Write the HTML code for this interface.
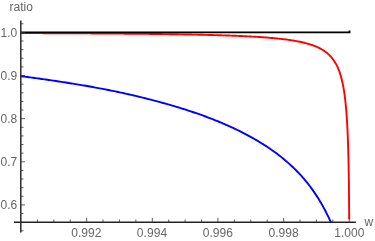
<!DOCTYPE html>
<html><head><meta charset="utf-8"><title>ratio plot</title>
<style>html,body{margin:0;padding:0;background:#fff;}body{width:375px;height:241px;overflow:hidden;font-family:"Liberation Sans",sans-serif;}</style>
</head><body>
<svg width="375" height="241" viewBox="0 0 375 241" style="display:block">
<defs><filter id="idf" x="0" y="0" width="100%" height="100%" filterUnits="userSpaceOnUse" color-interpolation-filters="sRGB"><feOffset dx="0" dy="0"/></filter></defs>
<rect width="375" height="241" fill="#fff"/>
<polyline points="20.40,76.11 21.82,76.29 23.24,76.48 24.65,76.66 26.07,76.84 27.49,77.03 28.91,77.22 30.33,77.41 31.75,77.59 33.16,77.79 34.58,77.98 36.00,78.17 37.42,78.36 38.84,78.56 40.26,78.76 41.67,78.95 43.09,79.15 44.51,79.35 45.93,79.56 47.35,79.76 48.76,79.96 50.18,80.17 51.60,80.38 53.02,80.59 54.44,80.80 55.86,81.01 57.27,81.22 58.69,81.44 60.11,81.65 61.53,81.87 62.95,82.09 64.37,82.31 65.78,82.53 67.20,82.76 68.62,82.98 70.04,83.21 71.46,83.44 72.87,83.67 74.29,83.90 75.71,84.13 77.13,84.36 78.55,84.60 79.97,84.84 81.38,85.08 82.80,85.32 84.22,85.56 85.64,85.81 87.06,86.06 88.48,86.31 89.89,86.56 91.31,86.81 92.73,87.06 94.15,87.32 95.57,87.58 96.98,87.84 98.40,88.10 99.82,88.36 101.24,88.63 102.66,88.90 104.08,89.17 105.49,89.44 106.91,89.72 108.33,89.99 109.75,90.27 111.17,90.56 112.58,90.85 114.00,91.14 115.42,91.43 116.84,91.73 118.26,92.03 119.68,92.33 121.09,92.63 122.51,92.94 123.93,93.25 125.35,93.57 126.77,93.88 128.19,94.20 129.60,94.53 131.02,94.85 132.44,95.18 133.86,95.51 135.28,95.84 136.69,96.18 138.11,96.52 139.53,96.86 140.95,97.20 142.37,97.55 143.79,97.90 145.20,98.25 146.62,98.61 148.04,98.97 149.46,99.33 150.88,99.69 152.30,100.06 153.71,100.43 155.13,100.80 156.55,101.17 157.97,101.55 159.39,101.93 160.80,102.32 162.22,102.71 163.64,103.10 165.06,103.50 166.48,103.90 167.90,104.30 169.31,104.71 170.73,105.12 172.15,105.54 173.57,105.96 174.99,106.38 176.41,106.81 177.82,107.24 179.24,107.67 180.66,108.11 182.08,108.55 183.50,109.00 184.91,109.45 186.33,109.91 187.75,110.37 189.17,110.83 190.59,111.30 192.01,111.77 193.42,112.25 194.84,112.73 196.26,113.22 197.68,113.71 199.10,114.21 200.52,114.71 201.93,115.21 203.35,115.72 204.77,116.24 206.19,116.76 207.61,117.29 209.02,117.83 210.44,118.37 211.86,118.91 213.28,119.47 214.70,120.03 216.12,120.59 217.53,121.17 218.95,121.75 220.37,122.33 221.79,122.93 223.21,123.53 224.63,124.14 226.04,124.76 227.46,125.38 228.88,126.01 230.30,126.66 231.72,127.30 233.13,127.96 234.55,128.63 235.97,129.31 237.39,129.99 238.81,130.69 240.23,131.39 241.64,132.10 243.06,132.83 244.48,133.56 245.90,134.31 247.32,135.06 248.73,135.83 250.15,136.60 251.57,137.38 252.99,138.18 254.41,138.99 255.83,139.81 257.24,140.64 258.66,141.48 260.08,142.33 261.50,143.20 262.92,144.09 264.34,144.99 265.75,145.90 267.17,146.83 268.59,147.77 270.01,148.74 271.43,149.72 272.84,150.72 274.26,151.73 275.68,152.77 277.10,153.83 278.52,154.90 279.94,156.01 281.35,157.13 282.77,158.28 284.19,159.45 285.61,160.65 287.03,161.87 288.45,163.11 289.86,164.39 291.28,165.69 292.70,167.02 294.12,168.38 295.54,169.78 296.95,171.21 298.37,172.68 299.79,174.18 301.21,175.73 302.63,177.32 304.05,178.95 305.46,180.63 306.88,182.36 308.30,184.14 309.72,185.98 311.14,187.88 312.56,189.84 313.97,191.87 315.39,193.96 316.81,196.12 318.23,198.35 319.65,200.67 321.06,203.07 322.48,205.55 323.90,208.12 325.32,210.79 326.74,213.57 328.16,216.45 329.57,219.45 330.99,222.30" fill="none" stroke="#0000ff" stroke-width="1.9" stroke-linejoin="round"/>
<polyline points="20.40,33.09 21.55,33.09 22.69,33.10 23.84,33.10 24.99,33.10 26.13,33.11 27.28,33.11 28.43,33.12 29.57,33.12 30.72,33.13 31.87,33.13 33.01,33.13 34.16,33.14 35.31,33.14 36.45,33.15 37.60,33.15 38.75,33.16 39.89,33.16 41.04,33.17 42.19,33.17 43.33,33.18 44.48,33.18 45.63,33.19 46.77,33.19 47.92,33.20 49.07,33.20 50.21,33.21 51.36,33.21 52.51,33.22 53.65,33.22 54.80,33.23 55.95,33.23 57.10,33.24 58.24,33.24 59.39,33.25 60.54,33.25 61.68,33.26 62.83,33.26 63.98,33.27 65.12,33.28 66.27,33.28 67.42,33.29 68.56,33.29 69.71,33.30 70.86,33.31 72.00,33.31 73.15,33.32 74.30,33.32 75.44,33.33 76.59,33.34 77.74,33.34 78.88,33.35 80.03,33.36 81.18,33.36 82.32,33.37 83.47,33.38 84.62,33.38 85.76,33.39 86.91,33.40 88.06,33.40 89.20,33.41 90.35,33.42 91.50,33.43 92.64,33.43 93.79,33.44 94.94,33.45 96.08,33.46 97.23,33.46 98.38,33.47 99.52,33.48 100.67,33.49 101.82,33.49 102.96,33.50 104.11,33.51 105.26,33.52 106.40,33.53 107.55,33.54 108.70,33.54 109.84,33.55 110.99,33.56 112.14,33.57 113.28,33.58 114.43,33.59 115.58,33.60 116.72,33.61 117.87,33.62 119.02,33.63 120.16,33.64 121.31,33.65 122.46,33.66 123.60,33.67 124.75,33.68 125.90,33.69 127.04,33.70 128.19,33.71 129.34,33.72 130.48,33.73 131.63,33.74 132.78,33.75 133.92,33.76 135.07,33.77 136.22,33.78 137.36,33.79 138.51,33.81 139.66,33.82 140.80,33.83 141.95,33.84 143.10,33.85 144.24,33.87 145.39,33.88 146.54,33.89 147.68,33.90 148.83,33.92 149.98,33.93 151.12,33.94 152.27,33.96 153.42,33.97 154.56,33.99 155.71,34.00 156.86,34.01 158.00,34.03 159.15,34.04 160.30,34.06 161.44,34.07 162.59,34.09 163.74,34.10 164.88,34.12 166.03,34.14 167.18,34.15 168.32,34.17 169.47,34.19 170.62,34.20 171.76,34.22 172.91,34.24 174.06,34.26 175.20,34.27 176.35,34.29 177.50,34.31 178.64,34.33 179.79,34.35 180.94,34.37 182.08,34.39 183.23,34.41 184.38,34.43 185.52,34.45 186.67,34.47 187.82,34.49 188.96,34.51 190.11,34.53 191.25,34.56 192.40,34.58 193.55,34.60 194.69,34.63 195.84,34.65 196.99,34.67 198.13,34.70 199.28,34.72 200.43,34.75 201.57,34.78 202.72,34.80 203.87,34.83 205.01,34.86 206.16,34.88 207.31,34.91 208.45,34.94 209.60,34.97 210.74,35.00 211.89,35.03 213.04,35.06 214.18,35.09 215.33,35.13 216.48,35.16 217.62,35.19 218.77,35.22 219.91,35.26 221.06,35.29 222.21,35.33 223.35,35.37 224.50,35.40 225.65,35.44 226.79,35.48 227.94,35.52 229.08,35.56 230.23,35.60 231.38,35.64 232.52,35.69 233.67,35.73 234.81,35.78 235.96,35.82 237.10,35.87 238.25,35.92 239.40,35.97 240.54,36.02 241.69,36.07 242.83,36.12 243.98,36.17 245.12,36.23 246.27,36.28 247.41,36.34 248.56,36.40 249.70,36.46 250.85,36.52 251.99,36.58 253.14,36.65 254.28,36.71 255.43,36.78 256.57,36.85 257.72,36.92 258.86,36.99 260.01,37.07 261.15,37.14 262.30,37.22 263.44,37.30 264.58,37.38 265.73,37.47 266.87,37.56 268.01,37.65 269.16,37.74 270.30,37.84 271.44,37.93 272.58,38.03 273.73,38.14 274.87,38.25 276.01,38.36 277.15,38.47 278.29,38.59 279.43,38.71 280.57,38.83 281.71,38.96 282.85,39.09 283.99,39.23 285.13,39.37 286.26,39.52 287.40,39.67 288.54,39.83 289.67,39.99 290.80,40.16 291.94,40.34 293.07,40.52 294.20,40.70 295.33,40.90 296.46,41.10 297.59,41.31 298.71,41.53 299.84,41.76 300.96,42.00 302.08,42.25 303.20,42.50 304.31,42.77 305.42,43.05 306.53,43.35 307.64,43.65 308.74,43.97 309.83,44.31 310.93,44.66 312.01,45.02 313.09,45.40 314.17,45.80 315.24,46.22 316.30,46.66 317.35,47.12 318.39,47.61 319.41,48.11 320.43,48.64 321.44,49.20 322.42,49.78 323.40,50.38 324.35,51.02 325.29,51.68 326.21,52.37 327.10,53.08 327.97,53.83 328.82,54.60 329.64,55.40 330.44,56.23 331.21,57.08 331.95,57.95 332.66,58.85 333.35,59.77 334.00,60.71 334.63,61.67 335.23,62.65 335.81,63.64 336.36,64.65 336.88,65.67 337.38,66.70 337.85,67.74 338.30,68.80 338.73,69.86 339.14,70.93 339.53,72.01 339.91,73.09 340.26,74.18 340.60,75.28 340.92,76.38 341.23,77.48 341.52,78.59 341.80,79.70 342.07,80.82 342.33,81.94 342.57,83.06 342.81,84.18 343.03,85.30 343.25,86.43 343.45,87.56 343.65,88.69 343.84,89.82 344.02,90.95 344.19,92.09 344.36,93.22 344.52,94.36 344.67,95.49 344.82,96.63 344.97,97.77 345.10,98.91 345.24,100.04 345.36,101.18 345.49,102.32 345.61,103.46 345.72,104.61 345.83,105.75 345.94,106.89 346.04,108.03 346.14,109.17 346.23,110.32 346.33,111.46 346.42,112.60 346.50,113.75 346.59,114.89 346.67,116.03 346.75,117.18 346.82,118.32 346.90,119.47 346.97,120.61 347.04,121.76 347.10,122.90 347.17,124.04 347.23,125.19 347.29,126.34 347.35,127.48 347.41,128.63 347.46,129.77 347.52,130.92 347.57,132.06 347.62,133.21 347.67,134.35 347.72,135.50 347.76,136.64 347.81,137.79 347.85,138.94 347.90,140.08 347.94,141.23 347.98,142.37 348.02,143.52 348.05,144.67 348.09,145.81 348.13,146.96 348.16,148.11 348.20,149.25 348.23,150.40 348.26,151.54 348.29,152.69 348.32,153.84 348.35,154.98 348.38,156.13 348.41,157.28 348.44,158.42 348.46,159.57 348.49,160.71 348.51,161.86 348.54,163.01 348.56,164.15 348.59,165.30 348.61,166.45 348.63,167.59 348.65,168.74 348.67,169.89 348.69,171.03 348.71,172.18 348.73,173.33 348.75,174.47 348.77,175.62 348.79,176.77 348.80,177.91 348.82,179.06 348.84,180.21 348.85,181.35 348.87,182.50 348.88,183.65 348.90,184.79 348.91,185.94 348.93,187.09 348.94,188.23 348.95,189.38 348.96,190.53 348.98,191.67 348.99,192.82 349.00,193.97 349.01,195.11 349.02,196.26 349.03,197.41 349.04,198.55 349.05,199.70 349.06,200.85 349.07,201.99 349.08,203.14 349.09,204.29 349.10,205.43 349.11,206.58 349.12,207.73 349.13,208.87 349.13,210.02 349.14,211.17 349.15,212.31 349.15,213.46 349.16,214.61 349.17,215.75 349.17,216.90 349.18,218.05 349.19,219.19" fill="none" stroke="#ff0000" stroke-width="1.9" stroke-linejoin="round"/>
<path d="M20.4 32.4 L349.5 32.4 L349.5 30.5" fill="none" stroke="#000" stroke-width="1.9"/>
<line x1="14" y1="222.2" x2="355.8" y2="222.2" stroke="#222" stroke-width="1.35"/>
<line x1="20.8" y1="20.4" x2="20.8" y2="232.6" stroke="#2a2a2a" stroke-width="1.5"/>
<line x1="37.41" y1="221.95" x2="37.41" y2="219.45" stroke="#333" stroke-width="0.8"/>
<line x1="53.83" y1="221.95" x2="53.83" y2="219.45" stroke="#333" stroke-width="0.8"/>
<line x1="70.24" y1="221.95" x2="70.24" y2="219.45" stroke="#333" stroke-width="0.8"/>
<line x1="86.65" y1="221.95" x2="86.65" y2="217.95" stroke="#333" stroke-width="0.8"/>
<line x1="103.06" y1="221.95" x2="103.06" y2="219.45" stroke="#333" stroke-width="0.8"/>
<line x1="119.48" y1="221.95" x2="119.48" y2="219.45" stroke="#333" stroke-width="0.8"/>
<line x1="135.89" y1="221.95" x2="135.89" y2="219.45" stroke="#333" stroke-width="0.8"/>
<line x1="152.30" y1="221.95" x2="152.30" y2="217.95" stroke="#333" stroke-width="0.8"/>
<line x1="168.71" y1="221.95" x2="168.71" y2="219.45" stroke="#333" stroke-width="0.8"/>
<line x1="185.13" y1="221.95" x2="185.13" y2="219.45" stroke="#333" stroke-width="0.8"/>
<line x1="201.54" y1="221.95" x2="201.54" y2="219.45" stroke="#333" stroke-width="0.8"/>
<line x1="217.95" y1="221.95" x2="217.95" y2="217.95" stroke="#333" stroke-width="0.8"/>
<line x1="234.36" y1="221.95" x2="234.36" y2="219.45" stroke="#333" stroke-width="0.8"/>
<line x1="250.78" y1="221.95" x2="250.78" y2="219.45" stroke="#333" stroke-width="0.8"/>
<line x1="267.19" y1="221.95" x2="267.19" y2="219.45" stroke="#333" stroke-width="0.8"/>
<line x1="283.60" y1="221.95" x2="283.60" y2="217.95" stroke="#333" stroke-width="0.8"/>
<line x1="300.01" y1="221.95" x2="300.01" y2="219.45" stroke="#333" stroke-width="0.8"/>
<line x1="316.43" y1="221.95" x2="316.43" y2="219.45" stroke="#333" stroke-width="0.8"/>
<line x1="332.84" y1="221.95" x2="332.84" y2="219.45" stroke="#333" stroke-width="0.8"/>
<line x1="349.25" y1="221.95" x2="349.25" y2="217.95" stroke="#333" stroke-width="0.8"/>
<line x1="20.7" y1="230.80" x2="23.5" y2="230.80" stroke="#333" stroke-width="0.8"/>
<line x1="20.7" y1="213.55" x2="23.5" y2="213.55" stroke="#333" stroke-width="0.8"/>
<line x1="20.7" y1="204.92" x2="25.0" y2="204.92" stroke="#333" stroke-width="0.8"/>
<line x1="20.7" y1="196.29" x2="23.5" y2="196.29" stroke="#333" stroke-width="0.8"/>
<line x1="20.7" y1="187.67" x2="23.5" y2="187.67" stroke="#333" stroke-width="0.8"/>
<line x1="20.7" y1="179.04" x2="23.5" y2="179.04" stroke="#333" stroke-width="0.8"/>
<line x1="20.7" y1="170.42" x2="23.5" y2="170.42" stroke="#333" stroke-width="0.8"/>
<line x1="20.7" y1="161.79" x2="25.0" y2="161.79" stroke="#333" stroke-width="0.8"/>
<line x1="20.7" y1="153.16" x2="23.5" y2="153.16" stroke="#333" stroke-width="0.8"/>
<line x1="20.7" y1="144.54" x2="23.5" y2="144.54" stroke="#333" stroke-width="0.8"/>
<line x1="20.7" y1="135.91" x2="23.5" y2="135.91" stroke="#333" stroke-width="0.8"/>
<line x1="20.7" y1="127.29" x2="23.5" y2="127.29" stroke="#333" stroke-width="0.8"/>
<line x1="20.7" y1="118.66" x2="25.0" y2="118.66" stroke="#333" stroke-width="0.8"/>
<line x1="20.7" y1="110.03" x2="23.5" y2="110.03" stroke="#333" stroke-width="0.8"/>
<line x1="20.7" y1="101.41" x2="23.5" y2="101.41" stroke="#333" stroke-width="0.8"/>
<line x1="20.7" y1="92.78" x2="23.5" y2="92.78" stroke="#333" stroke-width="0.8"/>
<line x1="20.7" y1="84.16" x2="23.5" y2="84.16" stroke="#333" stroke-width="0.8"/>
<line x1="20.7" y1="75.53" x2="25.0" y2="75.53" stroke="#333" stroke-width="0.8"/>
<line x1="20.7" y1="66.90" x2="23.5" y2="66.90" stroke="#333" stroke-width="0.8"/>
<line x1="20.7" y1="58.28" x2="23.5" y2="58.28" stroke="#333" stroke-width="0.8"/>
<line x1="20.7" y1="49.65" x2="23.5" y2="49.65" stroke="#333" stroke-width="0.8"/>
<line x1="20.7" y1="41.03" x2="23.5" y2="41.03" stroke="#333" stroke-width="0.8"/>
<line x1="20.7" y1="32.40" x2="25.0" y2="32.40" stroke="#333" stroke-width="0.8"/>
<line x1="20.7" y1="23.77" x2="23.5" y2="23.77" stroke="#333" stroke-width="0.8"/>
<g font-family="'Liberation Sans', sans-serif" font-size="12" fill="#666" filter="url(#idf)">
<text x="9.5" y="11.10" text-anchor="start">ratio</text>
<text x="364.6" y="226.40" text-anchor="start">w</text>
<text x="17.2" y="36.55" text-anchor="end">1.0</text>
<text x="17.2" y="79.68" text-anchor="end">0.9</text>
<text x="17.2" y="122.81" text-anchor="end">0.8</text>
<text x="17.2" y="165.94" text-anchor="end">0.7</text>
<text x="17.2" y="209.07" text-anchor="end">0.6</text>
<text x="86.35" y="236.9" text-anchor="middle" letter-spacing="0.08">0.992</text>
<text x="152.05" y="236.9" text-anchor="middle" letter-spacing="0.08">0.994</text>
<text x="217.90" y="236.9" text-anchor="middle" letter-spacing="0.08">0.996</text>
<text x="283.60" y="236.9" text-anchor="middle" letter-spacing="0.08">0.998</text>
<text x="349.40" y="236.9" text-anchor="middle" letter-spacing="0.08">1.000</text>
</g>
</svg>
</body></html>
